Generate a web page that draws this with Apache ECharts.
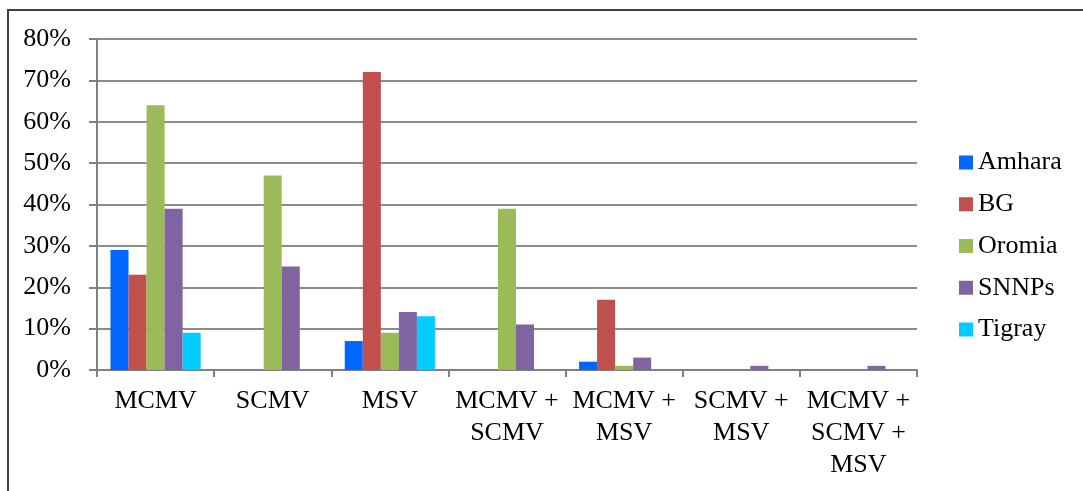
<!DOCTYPE html>
<html>
<head>
<meta charset="utf-8">
<script src="https://cdn.jsdelivr.net/npm/echarts@6/dist/echarts.min.js"></script>
<style>
  html, body { margin: 0; padding: 0; background: #fff; }
  #chart { width: 1083px; height: 491px; }
</style>
</head>
<body>
<div id="chart"></div>
<script>
// Virus combinations found per region (share of samples, %)
const categories = ['MCMV', 'SCMV', 'MSV', 'MCMV +\nSCMV', 'MCMV +\nMSV', 'SCMV +\nMSV', 'MCMV +\nSCMV +\nMSV'];
const regions = ['Amhara', 'BG', 'Oromia', 'SNNPs', 'Tigray'];
const amhara = [29, 0, 7, 0, 2, 0, 0];
const bg     = [23, 0, 72, 0, 17, 0, 0];
const oromia = [64, 47, 9, 39, 1, 0, 0];
const snnps  = [39, 25, 14, 11, 3, 1, 1];
const tigray = [9, 0, 13, 0, 0, 0, 0];
const yTicks = [0, 10, 20, 30, 40, 50, 60, 70, 80];

const seriesValues = [amhara, bg, oromia, snnps, tigray];
const colors = ['#0066FF', '#C0504D', '#9BBB59', '#8064A2', '#00CCFF'];
const font = 'Liberation Serif';

const chart = echarts.init(document.getElementById('chart'));
chart.setOption({
  animation: false,
  backgroundColor: '#fff',
  color: colors,
  textStyle: { fontFamily: font },
  graphic: [{
    type: 'rect',
    shape: { x: 8, y: 10, width: 1200, height: 600 },
    style: { fill: 'none', stroke: '#404040', lineWidth: 2 },
    silent: true
  }],
  grid: { left: 97, right: 166, top: 39, bottom: 121 },
  legend: {
    orient: 'vertical',
    left: 954,
    top: 143,
    itemWidth: 14,
    itemHeight: 14,
    itemGap: 12.75,
    icon: 'rect',
    data: regions,
    textStyle: { fontFamily: font, fontSize: 26, color: '#000', lineHeight: 29 }
  },
  xAxis: {
    type: 'category',
    data: categories,
    axisLine: { lineStyle: { color: '#808080', width: 2 } },
    axisTick: { show: true, length: 7, alignWithLabel: false, lineStyle: { color: '#808080', width: 2 } },
    axisLabel: { interval: 0, fontFamily: font, fontSize: 26, color: '#000', lineHeight: 32, margin: 15.5 }
  },
  yAxis: {
    type: 'value',
    min: 0,
    max: 80,
    interval: 10,
    axisLine: { show: true, lineStyle: { color: '#808080', width: 2 } },
    axisTick: { show: true, length: 8, lineStyle: { color: '#808080', width: 2 } },
    splitLine: { lineStyle: { color: '#8c8c8c', width: 2 } },
    axisLabel: {
      fontFamily: font, fontSize: 26, color: '#000', margin: 26,
      formatter: v => (yTicks.includes(v) ? v + '%' : '')
    }
  },
  series: regions.map((name, i) => ({
    name: name,
    type: 'bar',
    data: seriesValues[i],
    barGap: '0%',
    barCategoryGap: '23%',
    itemStyle: { color: colors[i] }
  }))
});
</script>
</body>
</html>
